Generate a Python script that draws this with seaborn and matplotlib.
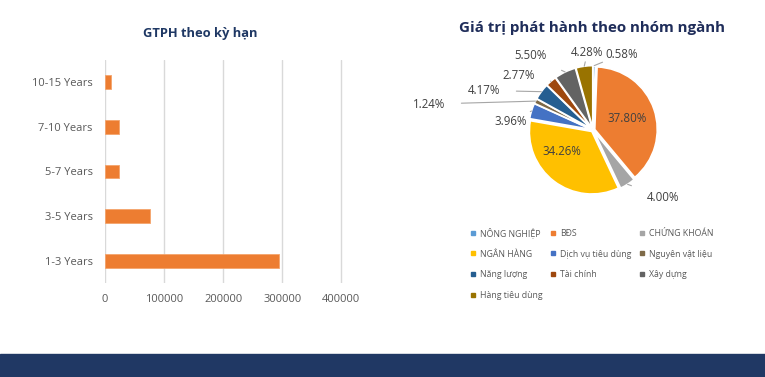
import numpy as np
import matplotlib
matplotlib.use("Agg")
import matplotlib.pyplot as plt
from matplotlib.lines import Line2D
from matplotlib.patches import Rectangle
import seaborn as sns

# data
tenors = ["10-15 Years", "7-10 Years", "5-7 Years", "3-5 Years", "1-3 Years"]
tenor_values = [10000, 24000, 23000, 76000, 295000]

sectors = ["NÔNG NGHIỆP", "BĐS", "CHỨNG KHOÁN", "NGÂN HÀNG", "Dịch vụ tiêu dùng",
           "Nguyên vật liệu", "Năng lượng", "Tài chính", "Xây dựng", "Hàng tiêu dùng"]
sector_pct = [0.58, 37.80, 4.00, 34.26, 3.96, 1.24, 4.17, 2.77, 5.50, 4.28]
sector_colors = ["#5B9BD5", "#ED7D31", "#A5A5A5", "#FFC000", "#4472C4",
                 "#7E6A48", "#255E91", "#9E480E", "#636363", "#997300"]

sns.set_style("white")
plt.rcParams["font.family"] = ["Open Sans", "DejaVu Sans"]
grey = "#595959"
navy = "#1F3864"

fig = plt.figure(figsize=(7.65, 3.77), dpi=100)

# ==== bar chart ====
ax = fig.add_axes([105 / 765, 94 / 377, 254 / 765, 223 / 377])
sns.barplot(x=tenor_values, y=tenors, orient="h", color="#ED7D31", width=0.31,
            saturation=1, edgecolor="#F4A46C", linewidth=0.6, ax=ax)
ax.set_xlim(0, 430000)
ax.set_xticks([0, 100000, 200000, 300000, 400000])
ax.set_xticklabels(["0", "100000", "200000", "300000", "400000"])
ax.grid(axis="x", color="#D9D9D9", linewidth=1)
ax.set_axisbelow(True)
for s in ax.spines.values():
    s.set_visible(False)
ax.tick_params(axis="both", length=0, labelsize=8, labelcolor=grey)
ax.tick_params(axis="y", pad=9)
ax.tick_params(axis="x", pad=8)
ax.set_xlabel("")
ax.set_ylabel("")
fig.text(200 / 765, 1 - 33 / 377, "GTPH theo kỳ hạn", ha="center", va="center",
         fontsize=9.3, fontweight="bold", color=navy)

# ==== pie chart ====
ax2 = fig.add_axes([493 / 765, 147 / 377, 200 / 765, 200 / 377])
explode = [0.03] * len(sector_pct)
wedges, _ = ax2.pie(sector_pct, colors=sector_colors, startangle=90, counterclock=False,
                    explode=explode, wedgeprops=dict(edgecolor="white", linewidth=1.2))
ax2.set_xlim(-1.6, 1.6)
ax2.set_ylim(-1.6, 1.6)
ax2.set_aspect("equal")
ax2.axis("off")

# label placement (compass angle, distance) per slice; None = inside label
label_pos = [(21, 1.30), None, (134, 1.55), None, (276, 1.32),
             (279, 2.65), (290, 1.85), (306, 1.47), (320, 1.55), (356, 1.25)]
inside_pos = {1: (71, 0.58), 3: (235, 0.61)}
for i, w in enumerate(wedges):
    txt = f"{sector_pct[i]:.2f}%"
    if label_pos[i] is None:
        a, d = inside_pos[i]
        t = np.deg2rad(a)
        ax2.text(d * np.sin(t), d * np.cos(t), txt, ha="center", va="center",
                 fontsize=8.3, color="#404040")
        continue
    mid = np.deg2rad(90 - (w.theta1 + w.theta2) / 2)
    cx, cy = w.center
    edge = (cx + 1.0 * np.sin(mid), cy + 1.0 * np.cos(mid))
    a, d = label_pos[i]
    t = np.deg2rad(a)
    lx, ly = d * np.sin(t), d * np.cos(t)
    ax2.annotate(txt, xy=edge, xytext=(lx, ly), ha="center", va="center",
                 fontsize=8.3, color="#404040", annotation_clip=False,
                 arrowprops=dict(arrowstyle="-", color="#A6A6A6", lw=0.8,
                                 shrinkA=9, shrinkB=0))

fig.text(592 / 765, 1 - 28 / 377, "Giá trị phát hành theo nhóm ngành", ha="center",
         va="center", fontsize=10.9, fontweight="bold", color="#1F2D5A")

# legend, filled row by row
order = [0, 3, 6, 9, 1, 4, 7, 2, 5, 8]
handles = [Line2D([], [], marker="s", linestyle="", markersize=3, color=sector_colors[i])
           for i in order]
labels = [sectors[i] for i in order]
fig.legend(handles, labels, ncol=3, loc="upper left",
           bbox_to_anchor=(470 / 765, 1 - 227 / 377), frameon=False, fontsize=6.3,
           labelcolor=grey, handlelength=0.6, handletextpad=0.5, columnspacing=0.9,
           labelspacing=1.33, borderpad=0, borderaxespad=0)

# bottom band
fig.patches.append(Rectangle((0, 0), 1, 23 / 377, transform=fig.transFigure,
                             color="#203864", zorder=0))

fig.savefig("out.png", dpi=100)
